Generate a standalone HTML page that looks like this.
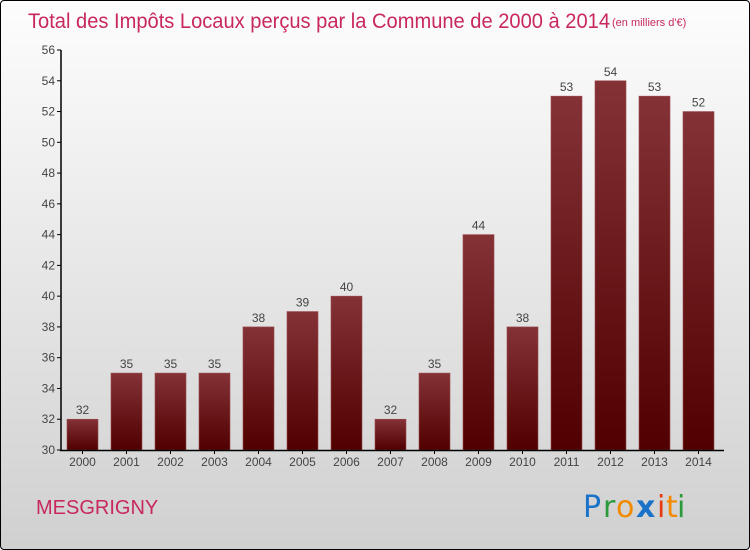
<!DOCTYPE html>
<html><head><meta charset="utf-8"><style>
body{margin:0;width:750px;height:550px;overflow:hidden;font-family:"Liberation Sans",sans-serif}
#c{position:absolute;left:0;top:0;width:748px;height:548px;border:1px solid #000;border-radius:4px;background:linear-gradient(#fdfdfd,#d0d0d0)}
</style></head><body>
<div id="c"></div>
<svg id="s" width="750" height="550" style="position:absolute;left:0;top:0">
<defs><linearGradient id="g" x1="0" y1="0" x2="0" y2="1"><stop offset="0" stop-color="#843236"/><stop offset="1" stop-color="#500000"/></linearGradient></defs>
<text x="28" y="28" font-size="21" fill="#c8285f" textLength="582" lengthAdjust="spacingAndGlyphs">Total des Impôts Locaux perçus par la Commune de 2000 à 2014</text>
<text x="612" y="26" font-size="11" fill="#c8285f">(en milliers d'€)</text>
<text x="36" y="514" font-size="20" fill="#c8285f">MESGRIGNY</text>
<g font-size="30" font-family="'DejaVu Sans',sans-serif"><text x="583" y="517" fill="#1a73c8">P</text><text x="603" y="517" fill="#2a9a3a">r</text><text x="616" y="517" fill="#f28a00">o</text><text x="636" y="517" fill="#1a73c8" font-weight="bold">x</text><text x="657" y="517" fill="#e83a10">i</text><text x="666" y="517" fill="#f28a00">t</text><text x="677" y="517" fill="#2a9a3a">i</text></g>
<g id="plot"></g>
</svg>
<script>
const years=["2000","2001","2002","2003","2004","2005","2006","2007","2008","2009","2010","2011","2012","2013","2014"];
const values=[32,35,35,35,38,39,40,32,35,44,38,53,54,53,52];
const ticks=[30,32,34,36,38,40,42,44,46,48,50,52,54,56];
const NS="http://www.w3.org/2000/svg";
const p=document.getElementById('plot');
const y=v=>450-(v-30)*400/26;
const x=i=>82.5+i*44;
function mk(t,a){const e=document.createElementNS(NS,t);for(const k in a)e.setAttribute(k,a[k]);p.appendChild(e);return e;}
ticks.forEach(t=>{
 const l=mk('line',{x1:57,x2:61,y1:y(t),y2:y(t),stroke:'#000'});
 
 
 const tx=mk('text',{x:55,y:y(t)+4,'font-size':12,fill:'#444','text-anchor':'end'});tx.textContent=t;
 
 
});
values.forEach((v,i)=>{
 const r=mk('rect',{x:x(i)-15.5,y:y(v),width:31,height:450-y(v),fill:'url(#g)',stroke:'#9a4a4e','stroke-width':0.6});
 
 
 const t=mk('text',{x:x(i),y:y(v)-5,'font-size':12,fill:'#444','text-anchor':'middle'});t.textContent=v;
 
 
 const k=mk('line',{x1:x(i),x2:x(i),y1:450,y2:454,stroke:'#000'});
 
 
 const l=mk('text',{x:x(i),y:466,'font-size':12,fill:'#444','text-anchor':'middle'});l.textContent=years[i];
 
 
});
const ya=mk('line',{x1:61,x2:61,y1:50,y2:451,stroke:'#000','stroke-width':1.5});


const xa=mk('line',{x1:60,x2:724,y1:450.5,y2:450.5,stroke:'#000','stroke-width':1.5});


</script>
</body></html>
